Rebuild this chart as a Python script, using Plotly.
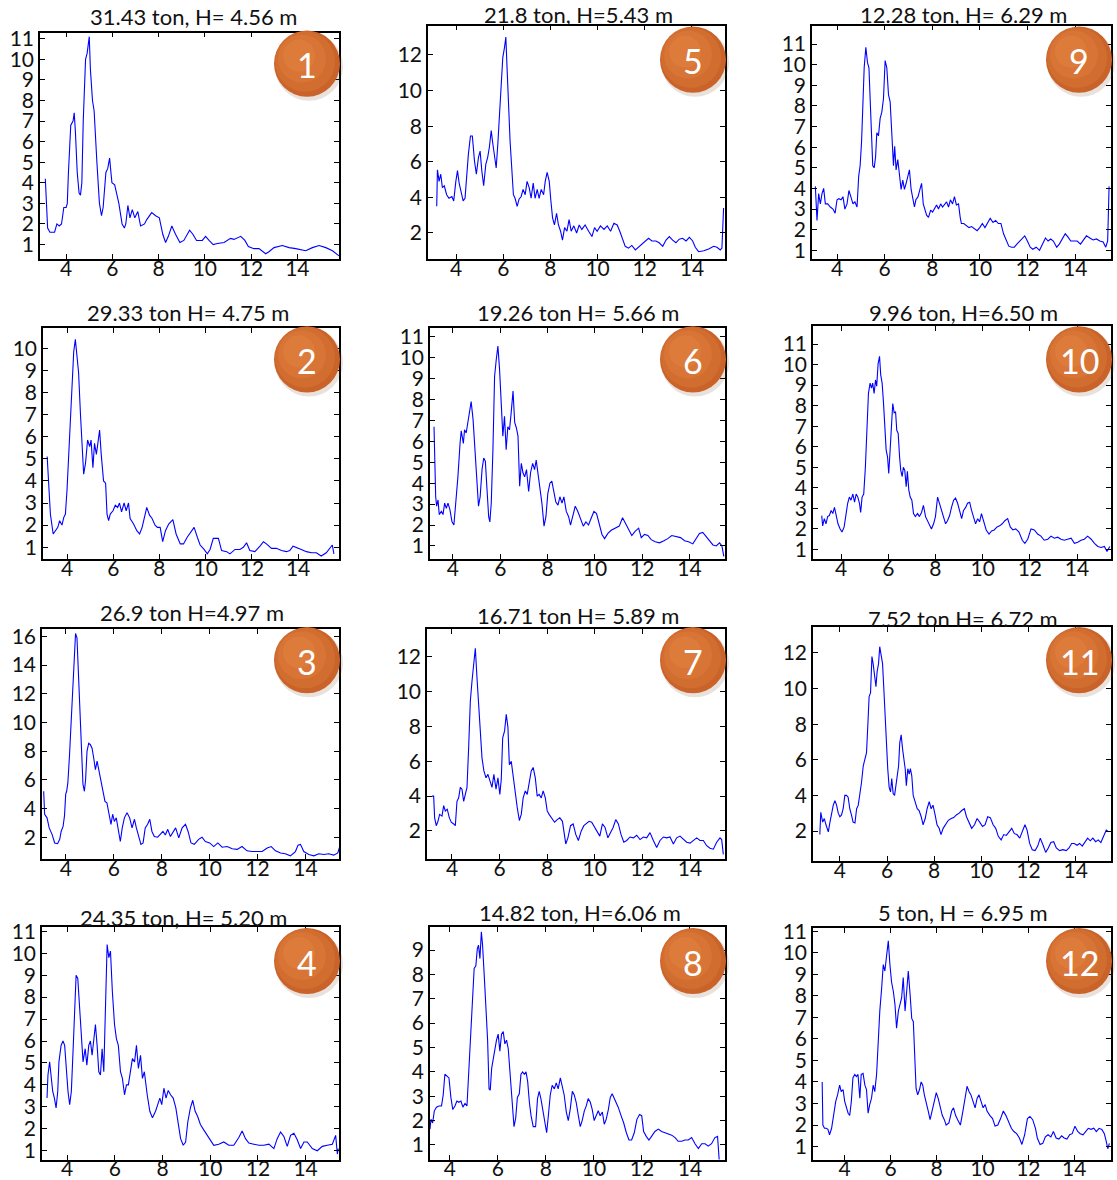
import plotly.graph_objects as go

# ---------------- data ((x, y) pairs) ----------------
P1 = [(3.1,4.2),(3.15,2.5),(3.2,1.8),(3.3,1.6),(3.4,1.6),(3.5,1.6),(3.6,2.0),(3.7,1.9),(3.8,2.0),(3.9,2.8),
      (4.0,2.8),(4.05,3.0),(4.1,4.5),(4.2,6.8),(4.3,7.0),(4.35,7.4),(4.4,6.5),(4.48,4.5),(4.56,3.5),(4.62,3.4),
      (4.68,4.0),(4.74,7.0),(4.84,10.0),(4.91,10.3),(5.0,11.1),(5.05,9.5),(5.14,8.0),(5.21,7.5),(5.33,5.0),(5.44,3.0),
      (5.53,2.4),(5.6,2.8),(5.72,4.5),(5.8,4.7),(5.88,5.2),(5.98,4.0),(6.1,3.9),(6.28,3.0),(6.42,2.0),(6.52,1.8),
      (6.58,2.0),(6.67,2.9),(6.76,2.3),(6.86,2.7),(6.97,2.3),(7.1,2.6),(7.22,1.9),(7.39,2.0),(7.48,2.2),(7.7,2.55),
      (7.87,2.4),(8.03,2.3),(8.18,1.5),(8.3,1.1),(8.42,1.4),(8.57,1.9),(8.73,1.5),(8.92,1.1),(9.09,1.2),(9.24,1.5),
      (9.34,1.7),(9.48,1.5),(9.64,1.2),(9.89,1.2),(10.03,1.4),(10.18,1.2),(10.36,1.0),(10.54,1.05),(10.83,1.1),(11.11,1.3),
      (11.26,1.25),(11.55,1.4),(11.73,1.2),(11.88,0.9),(12.12,0.8),(12.34,0.8),(12.63,0.55),(12.77,0.65),(12.99,0.85),(13.35,0.95),
      (13.64,0.85),(13.93,0.8),(14.22,0.75),(14.36,0.7),(14.65,0.85),(14.94,0.95),(15.23,0.85),(15.52,0.7),(15.8,0.45)]

P2 = [(3.14,5.1),(3.21,3.6),(3.28,2.5),(3.4,1.6),(3.5,1.75),(3.6,1.9),(3.68,2.2),(3.78,2.0),(3.86,2.35),(3.93,2.5),
      (4.0,3.6),(4.07,5.1),(4.14,6.3),(4.22,8.4),(4.29,9.85),(4.36,10.4),(4.43,9.7),(4.5,8.9),(4.58,7.05),(4.65,5.5),
      (4.72,4.3),(4.8,4.8),(4.89,5.85),(4.98,5.55),(5.04,5.85),(5.12,4.6),(5.19,5.7),(5.27,5.2),(5.34,5.85),(5.41,6.3),
      (5.48,5.2),(5.58,4.0),(5.67,3.9),(5.73,2.5),(5.8,2.2),(5.87,2.5),(5.99,2.65),(6.09,2.9),(6.19,2.8),(6.27,3.0),
      (6.36,2.6),(6.47,3.0),(6.56,2.65),(6.66,3.0),(6.73,2.3),(6.88,2.05),(7.02,1.75),(7.14,1.6),(7.25,1.9),(7.34,2.35),
      (7.45,2.8),(7.57,2.45),(7.68,2.3),(7.81,2.0),(7.91,1.9),(8.03,1.9),(8.14,1.25),(8.26,1.75),(8.4,2.05),(8.58,2.25),
      (8.72,1.6),(8.9,1.15),(9.04,1.15),(9.2,1.45),(9.4,1.75),(9.5,1.9),(9.64,1.45),(9.76,1.1),(9.93,0.9),(10.07,0.7),
      (10.19,0.9),(10.33,1.4),(10.55,1.4),(10.69,0.85),(10.91,0.8),(11.05,0.7),(11.27,0.9),(11.48,0.9),(11.63,1.0),(11.77,1.2),
      (11.91,0.85),(12.13,0.8),(12.35,1.05),(12.5,1.25),(12.63,1.15),(12.85,0.95),(13.06,0.95),(13.28,0.85),(13.5,0.8),(13.64,0.85),
      (13.78,1.05),(13.93,1.0),(14.14,0.9),(14.36,0.8),(14.58,0.75),(14.79,0.75),(15.0,0.6),(15.22,0.75),(15.4,1.0),(15.48,1.1),
      (15.55,0.7)]

P3 = [(3.07,5.2),(3.11,3.6),(3.21,3.35),(3.3,2.65),(3.42,2.2),(3.53,1.6),(3.65,1.55),(3.74,1.85),(3.8,2.4),(3.88,2.75),
      (3.94,3.5),(3.99,5.0),(4.03,5.2),(4.08,5.8),(4.15,7.75),(4.21,9.85),(4.28,12.15),(4.35,15.2),(4.4,16.2),(4.46,15.9),
      (4.52,13.55),(4.57,11.25),(4.64,8.0),(4.71,5.7),(4.77,5.2),(4.82,6.0),(4.88,8.0),(4.95,8.55),(5.02,8.45),(5.09,8.2),
      (5.16,7.5),(5.23,6.7),(5.3,7.3),(5.36,6.8),(5.43,6.0),(5.55,5.1),(5.63,4.5),(5.71,4.4),(5.8,3.6),(5.88,2.9),
      (5.95,3.6),(6.02,3.1),(6.1,3.35),(6.2,2.4),(6.27,1.7),(6.35,2.65),(6.44,3.35),(6.55,3.7),(6.66,3.35),(6.76,2.65),
      (6.86,3.25),(6.94,2.65),(7.05,1.95),(7.13,1.5),(7.22,1.6),(7.31,2.65),(7.41,2.9),(7.5,3.25),(7.59,2.4),(7.69,2.05),
      (7.83,2.0),(7.97,2.3),(8.05,2.4),(8.15,2.15),(8.25,2.55),(8.36,2.05),(8.47,2.4),(8.58,2.65),(8.71,1.95),(8.85,2.65),
      (8.99,2.9),(9.1,2.4),(9.22,1.6),(9.36,1.5),(9.54,1.85),(9.68,2.0),(9.82,1.7),(10.0,1.6),(10.17,1.35),(10.34,1.6),
      (10.52,1.3),(10.73,1.35),(10.94,1.2),(11.15,1.15),(11.35,1.35),(11.56,1.05),(11.77,1.0),(11.98,1.0),(12.19,1.0),(12.4,1.25),
      (12.57,1.35),(12.75,1.05),(12.96,0.9),(13.16,0.85),(13.37,0.7),(13.58,1.0),(13.69,1.45),(13.79,1.5),(13.93,1.0),(14.14,0.8),
      (14.35,0.7),(14.56,0.85),(14.77,0.8),(14.97,0.85),(15.18,0.75),(15.35,0.9),(15.43,1.35)]

P4 = [(3.16,3.4),(3.2,4.45),(3.27,5.05),(3.33,4.3),(3.4,3.7),(3.47,3.4),(3.54,2.95),(3.61,3.7),(3.66,5.05),(3.75,5.8),
      (3.83,6.0),(3.9,5.8),(3.97,4.6),(4.04,3.7),(4.11,3.1),(4.18,3.7),(4.25,5.5),(4.31,7.2),(4.38,9.0),(4.45,8.85),
      (4.53,7.5),(4.6,6.1),(4.67,5.05),(4.76,5.65),(4.83,4.9),(4.91,5.8),(4.98,6.0),(5.05,5.35),(5.12,6.1),(5.19,6.75),
      (5.26,5.8),(5.33,4.6),(5.4,4.45),(5.47,5.65),(5.54,4.6),(5.61,7.2),(5.68,10.4),(5.75,9.8),(5.82,10.1),(5.9,8.25),
      (5.99,6.75),(6.07,6.1),(6.15,5.8),(6.24,4.6),(6.32,4.3),(6.41,3.55),(6.49,4.0),(6.57,4.0),(6.66,4.6),(6.74,5.2),
      (6.83,5.05),(6.91,5.8),(6.99,4.75),(7.08,5.35),(7.16,4.3),(7.24,4.6),(7.36,3.55),(7.47,2.8),(7.58,2.5),(7.71,2.8),
      (7.8,3.1),(7.89,3.4),(7.97,3.1),(8.06,3.85),(8.15,3.4),(8.24,3.75),(8.34,3.55),(8.45,3.4),(8.56,2.95),(8.66,2.2),
      (8.76,1.55),(8.87,1.25),(8.97,1.4),(9.06,2.3),(9.17,2.95),(9.27,3.3),(9.37,2.8),(9.48,2.55),(9.59,2.2),(9.73,1.95),
      (9.87,1.7),(10.01,1.5),(10.15,1.25),(10.36,1.3),(10.57,1.4),(10.78,1.25),(10.99,1.25),(11.2,1.6),(11.34,1.9),(11.48,1.55),
      (11.62,1.35),(11.83,1.3),(12.04,1.25),(12.25,1.25),(12.46,1.3),(12.67,1.1),(12.81,1.55),(12.95,1.85),(13.09,1.65),(13.23,1.2),
      (13.37,1.7),(13.51,1.8),(13.65,1.5),(13.79,1.1),(13.93,1.4),(14.07,1.4),(14.28,1.1),(14.49,1.0),(14.7,1.2),(14.91,1.25),
      (15.12,1.3),(15.26,1.7),(15.33,0.85),(15.37,1.1)]

P5 = [(3.18,3.5),(3.21,5.55),(3.28,4.9),(3.35,5.3),(3.42,4.55),(3.5,4.65),(3.6,4.15),(3.7,3.95),(3.82,4.05),(3.9,3.8),
      (3.99,4.9),(4.06,5.5),(4.13,4.8),(4.21,4.25),(4.3,3.8),(4.38,3.95),(4.45,5.3),(4.52,6.4),(4.61,7.45),(4.69,7.45),
      (4.78,6.05),(4.86,5.3),(4.95,6.25),(5.02,6.6),(5.09,5.5),(5.17,4.65),(5.26,5.85),(5.34,6.25),(5.41,6.8),(5.49,7.75),
      (5.56,7.0),(5.63,6.25),(5.7,5.65),(5.77,7.0),(5.84,8.85),(5.91,10.75),(5.98,11.85),(6.05,12.4),(6.11,13.0),(6.16,11.3),
      (6.22,8.85),(6.29,7.15),(6.36,5.65),(6.43,4.15),(6.5,3.95),(6.59,3.5),(6.67,3.9),(6.76,4.05),(6.84,4.45),(6.93,4.15),
      (7.01,4.9),(7.1,4.55),(7.18,3.95),(7.27,4.8),(7.35,3.95),(7.44,4.45),(7.52,3.95),(7.61,4.45),(7.71,4.15),(7.78,4.9),
      (7.86,5.4),(7.95,4.9),(8.02,3.8),(8.09,2.85),(8.17,2.45),(8.26,3.1),(8.34,2.45),(8.43,2.1),(8.51,1.6),(8.6,2.3),
      (8.7,2.1),(8.79,2.75),(8.88,2.1),(8.99,2.4),(9.11,2.0),(9.22,2.45),(9.33,2.2),(9.47,2.45),(9.62,2.1),(9.76,1.8),
      (9.87,2.3),(9.98,2.1),(10.12,2.4),(10.27,2.2),(10.41,2.4),(10.55,2.1),(10.69,2.55),(10.83,2.45),(10.94,2.1),(11.06,1.6),
      (11.17,1.25),(11.31,1.15),(11.45,1.3),(11.6,1.05),(11.74,1.2),(11.88,1.4),(12.02,1.55),(12.16,1.7),(12.3,1.55),(12.47,1.55),
      (12.61,1.45),(12.76,1.25),(12.9,1.6),(13.04,1.8),(13.18,1.6),(13.32,1.45),(13.46,1.65),(13.6,1.7),(13.75,1.55),(13.89,1.75),
      (14.03,1.55),(14.14,1.2),(14.28,0.95),(14.5,1.0),(14.71,1.1),(14.92,1.25),(15.06,1.2),(15.2,1.05),(15.27,1.15),(15.34,3.4)]

P6 = [(3.2,6.7),(3.23,4.65),(3.27,3.35),(3.31,2.9),(3.37,3.2),(3.42,2.5),(3.51,2.65),(3.58,2.5),(3.65,3.05),(3.72,2.8),
      (3.79,3.05),(3.87,2.75),(3.96,2.15),(4.04,2.0),(4.13,3.05),(4.21,4.3),(4.3,5.9),(4.35,6.5),(4.44,5.9),(4.49,6.55),
      (4.56,6.4),(4.63,6.9),(4.7,7.5),(4.77,7.9),(4.85,7.05),(4.92,5.6),(5.0,4.0),(5.08,2.9),(5.15,3.35),(5.23,4.65),
      (5.3,5.2),(5.37,5.05),(5.44,3.7),(5.51,2.4),(5.56,2.15),(5.62,3.05),(5.69,5.6),(5.76,9.1),(5.83,9.9),(5.9,10.55),
      (5.97,9.45),(6.04,7.7),(6.11,6.25),(6.18,7.2),(6.25,5.6),(6.32,6.7),(6.39,6.55),(6.46,7.35),(6.54,8.4),(6.61,6.9),
      (6.68,6.65),(6.75,6.25),(6.82,3.85),(6.89,4.95),(6.96,4.5),(7.03,4.3),(7.11,4.65),(7.2,3.6),(7.28,4.5),(7.37,4.95),
      (7.45,4.65),(7.52,5.1),(7.59,4.5),(7.68,3.5),(7.76,3.05),(7.85,1.95),(7.93,2.4),(8.01,3.5),(8.1,4.0),(8.18,4.1),
      (8.27,3.5),(8.35,3.1),(8.44,2.95),(8.52,3.35),(8.61,3.05),(8.69,3.35),(8.79,2.65),(8.89,2.4),(8.97,2.0),(9.06,2.4),
      (9.17,2.9),(9.28,2.65),(9.39,2.35),(9.51,1.95),(9.62,2.15),(9.73,2.0),(9.85,2.35),(9.96,2.65),(10.07,2.55),(10.18,2.1),
      (10.3,1.55),(10.41,1.35),(10.55,1.6),(10.69,1.75),(10.86,1.85),(11.03,1.95),(11.17,2.35),(11.28,2.1),(11.42,1.75),(11.56,1.5),
      (11.7,1.7),(11.85,1.85),(11.96,1.4),(12.1,1.55),(12.24,1.5),(12.38,1.3),(12.55,1.2),(12.73,1.15),(12.92,1.25),(13.08,1.35),
      (13.25,1.5),(13.44,1.45),(13.62,1.4),(13.79,1.25),(13.96,1.2),(14.14,1.1),(14.28,1.35),(14.42,1.6),(14.56,1.65),(14.7,1.45),
      (14.85,1.2),(14.99,1.05),(15.13,1.0),(15.27,1.15),(15.37,1.0),(15.45,0.5)]

P7 = [(3.16,4.0),(3.23,4.0),(3.27,2.75),(3.34,2.3),(3.41,2.55),(3.48,2.95),(3.58,2.85),(3.65,3.45),(3.72,3.15),(3.8,3.25),
      (3.89,2.75),(3.97,2.5),(4.07,2.4),(4.14,2.3),(4.21,3.7),(4.28,3.9),(4.35,4.5),(4.42,4.4),(4.49,3.7),(4.56,4.1),
      (4.63,4.5),(4.7,6.8),(4.77,9.45),(4.84,10.6),(4.91,11.65),(4.98,12.5),(5.05,10.8),(5.12,9.05),(5.19,7.35),(5.26,6.2),
      (5.34,5.45),(5.43,5.05),(5.51,5.25),(5.59,4.95),(5.68,4.5),(5.76,5.25),(5.85,4.4),(5.93,5.05),(6.01,4.1),(6.07,4.95),
      (6.13,7.35),(6.21,7.75),(6.28,8.7),(6.35,7.95),(6.41,5.8),(6.49,6.0),(6.57,5.05),(6.66,4.3),(6.74,3.35),(6.83,2.6),
      (6.91,2.95),(6.99,3.9),(7.08,4.3),(7.16,4.1),(7.24,4.85),(7.33,5.45),(7.41,5.65),(7.5,5.05),(7.58,4.0),(7.66,4.1),
      (7.75,3.9),(7.83,4.3),(7.92,3.9),(8.0,3.15),(8.08,2.95),(8.2,2.75),(8.31,2.5),(8.42,2.65),(8.53,2.75),(8.64,2.55),
      (8.73,1.6),(8.78,1.25),(8.87,1.6),(8.98,2.3),(9.09,2.4),(9.2,1.8),(9.31,1.45),(9.43,2.0),(9.54,2.3),(9.65,2.4),
      (9.76,2.55),(9.87,2.5),(9.99,2.2),(10.1,1.9),(10.21,1.7),(10.32,2.4),(10.43,2.2),(10.55,1.6),(10.66,1.9),(10.77,2.2),
      (10.88,2.65),(10.99,2.4),(11.1,1.8),(11.22,1.35),(11.34,1.45),(11.48,1.65),(11.62,1.6),(11.76,1.75),(11.9,1.5),(12.04,1.65),
      (12.18,1.6),(12.32,1.9),(12.46,1.45),(12.6,1.05),(12.74,1.45),(12.88,1.65),(13.02,1.6),(13.16,1.65),(13.3,1.25),(13.44,1.6),
      (13.58,1.7),(13.72,1.5),(13.86,1.35),(14.0,1.3),(14.14,1.45),(14.28,1.6),(14.42,1.45),(14.56,1.45),(14.7,1.15),(14.84,1.0),
      (14.98,0.95),(15.12,1.35),(15.26,1.6),(15.33,1.5),(15.4,0.65)]

P8 = [(3.17,1.65),(3.21,2.05),(3.28,1.9),(3.35,2.4),(3.44,2.55),(3.54,2.6),(3.65,2.6),(3.72,3.05),(3.79,3.9),(3.88,3.8),
      (3.96,3.75),(4.04,2.95),(4.12,2.45),(4.21,2.6),(4.29,2.8),(4.37,2.75),(4.46,2.8),(4.54,2.55),(4.63,2.7),(4.71,2.6),
      (4.79,4.15),(4.88,5.55),(4.94,6.95),(5.01,8.25),(5.08,8.35),(5.14,9.05),(5.19,9.2),(5.25,8.65),(5.31,9.75),(5.36,9.2),
      (5.43,7.95),(5.5,6.85),(5.57,5.3),(5.63,3.3),(5.68,3.25),(5.74,4.15),(5.81,4.6),(5.88,5.0),(5.94,5.3),(6.01,5.55),
      (6.08,4.85),(6.15,5.55),(6.22,5.65),(6.29,5.15),(6.36,5.3),(6.43,4.95),(6.51,3.9),(6.6,2.75),(6.67,1.75),(6.74,2.1),
      (6.81,2.95),(6.89,3.1),(6.96,3.9),(7.03,4.0),(7.1,3.9),(7.17,4.0),(7.24,3.6),(7.31,2.75),(7.38,2.2),(7.47,1.75),
      (7.57,1.75),(7.65,2.9),(7.72,3.2),(7.79,2.9),(7.88,2.35),(7.96,1.75),(8.03,1.5),(8.1,2.2),(8.18,3.05),(8.26,3.45),
      (8.35,3.3),(8.43,3.55),(8.51,3.3),(8.6,3.75),(8.68,3.45),(8.76,3.05),(8.85,2.35),(8.93,2.0),(9.01,2.45),(9.1,3.2),
      (9.18,3.05),(9.26,2.75),(9.35,2.2),(9.43,1.75),(9.51,2.0),(9.6,2.4),(9.68,2.6),(9.76,2.9),(9.85,2.75),(9.93,2.45),
      (10.01,2.0),(10.1,2.2),(10.18,2.4),(10.26,2.2),(10.35,2.35),(10.43,1.85),(10.51,2.05),(10.6,2.45),(10.68,2.95),(10.76,3.1),
      (10.85,2.9),(10.93,2.75),(11.01,2.55),(11.13,2.2),(11.24,1.9),(11.35,1.5),(11.46,1.2),(11.57,1.2),(11.68,1.5),(11.79,2.05),
      (11.9,2.25),(11.99,2.2),(12.07,1.55),(12.18,1.35),(12.29,1.2),(12.4,1.35),(12.54,1.55),(12.68,1.65),(12.82,1.55),(12.96,1.5),
      (13.1,1.45),(13.24,1.4),(13.38,1.3),(13.51,1.15),(13.65,1.15),(13.79,1.2),(13.93,1.2),(14.07,1.3),(14.21,1.05),(14.35,0.85),
      (14.49,1.05),(14.63,1.05),(14.76,0.95),(14.9,1.05),(15.04,1.3),(15.15,1.35),(15.22,0.35)]

P9 = [(3.09,4.1),(3.16,2.45),(3.23,3.75),(3.3,3.25),(3.37,3.75),(3.44,4.0),(3.51,3.25),(3.61,3.25),(3.72,3.1),(3.83,3.0),
      (3.92,2.8),(4.0,3.45),(4.08,3.5),(4.17,3.45),(4.25,3.6),(4.33,3.0),(4.42,3.25),(4.5,3.9),(4.58,3.6),(4.67,3.25),
      (4.75,3.35),(4.84,3.1),(4.91,4.6),(4.97,5.1),(5.03,6.25),(5.09,8.2),(5.14,9.85),(5.21,10.85),(5.28,10.1),(5.34,9.85),
      (5.39,8.55),(5.45,6.25),(5.5,5.1),(5.56,5.0),(5.62,5.55),(5.67,6.7),(5.74,6.55),(5.81,7.4),(5.88,7.7),(5.95,8.35),
      (6.02,10.2),(6.09,9.85),(6.16,8.55),(6.23,8.2),(6.3,6.25),(6.37,5.1),(6.42,6.05),(6.48,4.9),(6.55,5.4),(6.62,4.75),
      (6.69,3.95),(6.76,4.4),(6.83,3.95),(6.9,4.25),(6.97,4.6),(7.04,4.9),(7.11,3.95),(7.18,3.6),(7.25,3.1),(7.31,3.45),
      (7.4,3.6),(7.48,3.95),(7.55,4.25),(7.62,3.25),(7.69,3.0),(7.76,2.7),(7.84,2.6),(7.93,2.95),(8.01,2.85),(8.09,3.0),
      (8.18,3.2),(8.26,3.0),(8.35,3.25),(8.43,3.1),(8.51,3.2),(8.6,3.35),(8.68,3.1),(8.76,3.45),(8.85,3.25),(8.93,3.6),
      (9.01,3.2),(9.1,3.25),(9.17,2.6),(9.22,2.3),(9.32,2.3),(9.43,2.2),(9.54,2.1),(9.65,2.15),(9.77,2.05),(9.88,1.95),
      (9.99,2.1),(10.1,2.3),(10.21,2.1),(10.32,2.35),(10.43,2.55),(10.55,2.35),(10.66,2.45),(10.77,2.3),(10.88,2.3),(10.99,1.8),
      (11.1,1.45),(11.21,1.2),(11.33,1.15),(11.44,1.15),(11.55,1.3),(11.66,1.45),(11.77,1.6),(11.88,1.7),(11.99,1.45),(12.11,1.15),
      (12.22,1.05),(12.36,1.15),(12.5,1.0),(12.64,1.3),(12.75,1.6),(12.86,1.45),(12.97,1.55),(13.08,1.45),(13.22,1.15),(13.33,1.3),
      (13.47,1.6),(13.58,1.8),(13.69,1.65),(13.81,1.45),(13.94,1.45),(14.08,1.45),(14.22,1.3),(14.36,1.55),(14.47,1.7),(14.61,1.6),
      (14.75,1.5),(14.89,1.55),(15.03,1.45),(15.17,1.4),(15.28,1.15),(15.36,1.45),(15.42,4.1)]

P10 = [(3.18,2.65),(3.22,2.15),(3.29,2.5),(3.36,2.25),(3.43,2.6),(3.5,2.65),(3.58,2.9),(3.65,2.75),(3.72,3.05),(3.79,2.6),
       (3.87,2.25),(3.96,2.0),(4.04,1.85),(4.13,2.1),(4.21,2.75),(4.28,3.25),(4.35,3.55),(4.42,3.4),(4.5,3.7),(4.57,3.3),
       (4.64,3.7),(4.71,3.55),(4.78,3.25),(4.83,2.8),(4.89,3.55),(4.96,3.7),(5.03,5.0),(5.09,7.15),(5.16,8.6),(5.23,9.1),
       (5.29,8.85),(5.34,9.1),(5.4,8.6),(5.46,9.25),(5.51,8.95),(5.57,10.05),(5.63,10.4),(5.68,9.5),(5.74,9.1),(5.8,8.1),
       (5.85,6.8),(5.91,5.85),(5.97,5.5),(6.02,4.7),(6.08,5.85),(6.14,7.15),(6.19,8.1),(6.25,7.65),(6.31,7.7),(6.36,6.8),
       (6.42,6.65),(6.48,5.5),(6.53,4.85),(6.59,4.55),(6.64,5.0),(6.7,4.85),(6.76,4.05),(6.81,4.8),(6.87,3.9),(6.93,3.55),
       (7.0,3.4),(7.07,2.75),(7.15,2.6),(7.24,2.75),(7.32,2.6),(7.41,2.8),(7.49,3.15),(7.58,2.6),(7.66,2.4),(7.75,2.25),
       (7.83,2.0),(7.92,2.25),(8.0,2.6),(8.09,3.55),(8.17,3.25),(8.26,2.9),(8.34,2.6),(8.43,2.25),(8.51,2.4),(8.6,2.65),
       (8.68,3.05),(8.77,3.4),(8.85,3.5),(8.94,3.25),(9.02,2.9),(9.11,2.5),(9.19,2.9),(9.28,3.05),(9.36,3.25),(9.45,3.3),
       (9.53,2.9),(9.62,2.5),(9.7,2.25),(9.79,2.5),(9.87,2.35),(9.95,2.75),(10.04,2.35),(10.15,1.95),(10.27,1.75),(10.38,1.9),
       (10.49,1.95),(10.61,2.1),(10.72,2.15),(10.83,2.25),(10.94,2.4),(11.06,2.5),(11.17,2.1),(11.28,1.95),(11.4,2.0),(11.54,1.85),
       (11.68,1.45),(11.79,1.3),(11.91,1.5),(12.05,2.0),(12.19,1.95),(12.33,1.75),(12.47,1.65),(12.61,1.45),(12.76,1.5),(12.9,1.65),
       (13.04,1.55),(13.18,1.6),(13.32,1.5),(13.46,1.45),(13.6,1.5),(13.75,1.55),(13.89,1.3),(14.03,1.35),(14.17,1.45),(14.31,1.5),
       (14.45,1.65),(14.6,1.5),(14.74,1.3),(14.88,1.15),(15.02,1.1),(15.16,1.15),(15.27,0.9),(15.39,1.15)]

P11 = [(3.15,1.8),(3.19,3.05),(3.27,2.5),(3.34,2.7),(3.41,2.35),(3.51,1.95),(3.58,2.5),(3.65,3.05),(3.72,3.45),(3.79,3.7),
       (3.86,3.45),(3.93,3.0),(4.0,2.8),(4.07,2.9),(4.14,3.25),(4.21,4.0),(4.28,4.0),(4.35,3.9),(4.42,3.25),(4.49,2.9),
       (4.56,2.5),(4.64,2.45),(4.71,3.25),(4.78,3.45),(4.85,4.0),(4.92,4.75),(4.99,5.65),(5.06,6.05),(5.13,6.4),(5.19,8.05),
       (5.24,9.55),(5.3,9.75),(5.36,11.8),(5.41,11.4),(5.47,10.65),(5.53,10.1),(5.58,10.95),(5.64,11.4),(5.69,12.35),(5.75,11.8),
       (5.81,11.4),(5.86,10.1),(5.92,8.45),(5.98,6.6),(6.03,5.5),(6.09,4.45),(6.15,4.2),(6.2,4.95),(6.26,4.1),(6.32,4.0),
       (6.37,4.55),(6.43,5.0),(6.49,5.65),(6.54,6.95),(6.6,7.4),(6.66,6.6),(6.71,6.05),(6.77,5.5),(6.82,4.55),(6.88,5.5),
       (6.94,5.2),(6.99,5.5),(7.05,5.1),(7.11,4.0),(7.19,3.65),(7.28,3.25),(7.36,3.15),(7.45,2.8),(7.53,2.35),(7.62,2.7),
       (7.7,3.25),(7.79,3.65),(7.87,3.25),(7.95,3.45),(8.04,2.9),(8.12,2.35),(8.21,2.15),(8.29,1.8),(8.38,2.15),(8.49,2.35),
       (8.6,2.6),(8.72,2.7),(8.83,2.75),(8.94,2.9),(9.06,3.0),(9.17,3.15),(9.28,3.25),(9.37,2.8),(9.48,2.45),(9.59,2.15),
       (9.71,2.35),(9.82,2.7),(9.93,2.5),(10.05,2.25),(10.16,2.35),(10.27,2.8),(10.38,2.75),(10.5,2.35),(10.61,2.15),(10.72,1.7),
       (10.84,1.5),(10.95,1.8),(11.06,1.75),(11.18,1.95),(11.29,2.15),(11.4,1.85),(11.51,1.8),(11.63,1.6),(11.74,1.95),(11.85,2.35),
       (11.94,2.05),(12.05,1.3),(12.16,0.95),(12.28,0.9),(12.39,1.15),(12.5,1.6),(12.62,1.2),(12.73,0.8),(12.84,1.05),(12.95,1.35),
       (13.07,1.4),(13.18,1.05),(13.32,0.9),(13.46,0.95),(13.6,0.9),(13.72,1.05),(13.83,1.3),(13.94,1.3),(14.06,1.2),(14.17,1.3),
       (14.28,1.15),(14.4,1.4),(14.51,1.6),(14.62,1.45),(14.73,1.6),(14.85,1.4),(14.96,1.5),(15.07,1.35),(15.19,1.7),(15.3,2.05),
       (15.41,1.95)]

P12 = [(3.02,4.0),(3.05,2.0),(3.12,1.85),(3.2,1.85),(3.27,1.8),(3.34,1.55),(3.43,1.85),(3.52,2.45),(3.61,3.1),(3.69,3.4),
       (3.78,3.85),(3.85,3.55),(3.93,3.65),(4.0,3.1),(4.07,2.8),(4.15,2.55),(4.22,2.45),(4.29,3.1),(4.36,4.2),(4.44,4.35),
       (4.51,4.25),(4.58,4.35),(4.66,3.25),(4.72,4.35),(4.8,4.4),(4.88,3.85),(4.95,3.65),(5.02,2.55),(5.09,2.95),(5.17,3.25),
       (5.24,3.85),(5.31,3.55),(5.39,4.35),(5.46,6.05),(5.53,7.3),(5.61,8.35),(5.68,9.45),(5.75,9.15),(5.82,9.7),(5.9,10.55),
       (5.97,9.45),(6.04,8.65),(6.12,8.2),(6.19,7.6),(6.26,6.5),(6.34,7.3),(6.41,7.6),(6.48,7.9),(6.55,8.85),(6.63,7.3),
       (6.7,8.2),(6.77,9.15),(6.85,8.05),(6.92,6.95),(6.99,6.8),(7.05,5.1),(7.11,3.7),(7.18,3.4),(7.26,3.65),(7.33,4.0),
       (7.4,3.85),(7.47,3.4),(7.55,3.1),(7.64,2.65),(7.72,2.25),(7.81,2.65),(7.9,3.1),(7.99,3.5),(8.07,3.25),(8.16,2.8),
       (8.25,2.45),(8.34,2.25),(8.42,2.0),(8.54,2.1),(8.66,2.65),(8.74,2.8),(8.83,2.45),(8.92,2.25),(9.04,2.0),(9.15,2.65),
       (9.24,3.25),(9.33,3.8),(9.42,3.55),(9.5,3.4),(9.59,3.1),(9.68,2.8),(9.77,3.25),(9.85,3.4),(9.94,3.1),(10.03,2.8),
       (10.12,2.95),(10.2,2.65),(10.32,2.45),(10.44,2.3),(10.55,1.95),(10.67,2.0),(10.79,2.3),(10.91,2.65),(11.02,2.45),(11.14,2.15),
       (11.26,1.85),(11.37,1.7),(11.49,1.6),(11.61,1.4),(11.72,1.1),(11.84,1.55),(11.96,2.3),(12.07,2.4),(12.19,2.25),(12.31,1.85),
       (12.39,1.4),(12.51,1.1),(12.63,1.15),(12.74,1.45),(12.86,1.55),(12.98,1.45),(13.09,1.7),(13.21,1.4),(13.33,1.35),(13.45,1.5),
       (13.56,1.4),(13.68,1.35),(13.8,1.55),(13.91,1.6),(14.03,1.95),(14.15,1.7),(14.26,1.6),(14.38,1.55),(14.5,1.7),(14.61,1.85),
       (14.73,1.8),(14.85,1.85),(14.96,1.7),(15.08,1.85),(15.2,1.8),(15.31,1.6),(15.39,1.25),(15.46,0.9),(15.53,1.15)]

SERIES = [P1, P2, P3, P4, P5, P6, P7, P8, P9, P10, P11, P12]

TITLES = ["31.43 ton, H= 4.56 m", "29.33 ton H= 4.75 m", "26.9 ton H=4.97 m", "24.35 ton, H= 5.20 m",
          "21.8 ton, H=5.43 m", "19.26 ton H= 5.66 m", "16.71 ton H= 5.89 m", "14.82 ton, H=6.06 m",
          "12.28 ton, H= 6.29 m", "9.96 ton, H=6.50 m", "7.52 ton H= 6.72 m", "5 ton, H = 6.95 m"]

BADGES = ["1", "2", "3", "4", "5", "6", "7", "8", "9", "10", "11", "12"]

X_TICKS = [4, 6, 8, 10, 12, 14]
Y_TICKS = [list(range(1, 12)), list(range(1, 11)), list(range(2, 17, 2)), list(range(1, 12)),
           list(range(2, 13, 2)), list(range(1, 12)), list(range(2, 13, 2)), list(range(1, 10)),
           list(range(1, 12)), list(range(1, 12)), list(range(2, 13, 2)), list(range(1, 12))]

X_RANGES = [[2.87, 15.8], [2.96, 15.77], [3.0, 15.4], [2.95, 15.4],
            [2.81, 15.4], [3.03, 15.5], [2.95, 15.47], [3.17, 15.46],
            [2.95, 15.5], [2.81, 15.44], [2.86, 15.5], [2.62, 15.6]]
Y_RANGES = [[0.29, 11.3], [0.47, 10.9], [0.5, 16.5], [0.6, 11.2],
            [0.53, 13.65], [0.38, 11.4], [0.4, 13.6], [0.4, 9.95],
            [0.57, 11.9], [0.54, 11.86], [0.33, 13.45], [0.4, 11.15]]

# ---------------- layout geometry ----------------
W, H = 1117, 1180

# Target positions are measured in reference-image pixels; the vertical
# placement is calibrated against the previous renders of this page.
VY0, VS = 9.5, 0.983


def px(x):
    return min(1.0, max(0.0, x / W))


def page_y(y):
    return (y - VY0) / VS


def py(y):
    return min(1.0, max(0.0, 1 - page_y(y) / H))


FRAMES = [(40, 339, 32, 258), (43, 339, 327, 557), (42, 339, 627, 856), (42, 339, 924, 1156),
          (428, 725, 25, 258), (430, 725, 327, 557), (427, 725, 627, 856), (430, 725, 924, 1156),
          (812, 1111, 25, 258), (813, 1111, 325, 557), (813, 1111, 625, 858), (813, 1111, 925, 1156)]
TITLE_POS = [(194, 16), (188, 311), (192, 610), (183, 915),
             (578, 14), (578, 311), (578, 613), (580, 910),
             (963, 14), (963, 311), (963, 616), (963, 910)]
BADGE_POS = [(307, 63), (307, 358), (307, 658), (307, 958),
             (693, 59), (693, 358), (693, 658), (693, 958),
             (1079, 59), (1079, 358), (1079, 658), (1079, 958)]
BADGE_R = 33

FONT = "Lato"
TICK_FONT = dict(family=FONT, size=21, color="#111111")

fig = go.Figure()
shapes = []
annotations = []


def circle(cx, cy, r, dx, dy, color):
    return dict(type="circle", xref="paper", yref="paper", layer="above",
                x0=(cx - r + dx) / W, x1=(cx + r + dx) / W,
                y0=1 - page_y(cy + r + dy) / H, y1=1 - page_y(cy - r + dy) / H,
                fillcolor=color, line=dict(width=0))


for i in range(12):
    sfx = "" if i == 0 else str(i + 1)
    pts = SERIES[i]
    xs = [p[0] for p in pts]
    ys = [p[1] for p in pts]
    fig.add_trace(go.Scatter(x=xs, y=ys, mode="lines",
                             line=dict(color="#0000FF", width=1.1),
                             xaxis="x" + sfx, yaxis="y" + sfx,
                             showlegend=False, hoverinfo="skip"))
    l, r, t, b = FRAMES[i]
    common = dict(ticks="inside", ticklen=5, tickwidth=1, tickcolor="black",
                  showline=True, linecolor="black", linewidth=1.5, mirror="ticks",
                  showgrid=False, zeroline=False, tickfont=TICK_FONT, fixedrange=True)
    fig.update_layout(**{
        "xaxis" + sfx: dict(domain=[px(l), px(r)], range=X_RANGES[i], anchor="y" + sfx,
                            tickmode="array", tickvals=X_TICKS, ticklabelstandoff=-10,
                            ticktext=[str(v) for v in X_TICKS], **common),
        "yaxis" + sfx: dict(domain=[py(b), py(t)], range=Y_RANGES[i], anchor="x" + sfx,
                            tickmode="array", tickvals=Y_TICKS[i],
                            ticktext=[str(v) for v in Y_TICKS[i]], **common),
    })

    tx, ty = TITLE_POS[i]
    annotations.append(dict(text=TITLES[i], x=px(tx), y=py(ty), xref="paper", yref="paper",
                            xanchor="center", yanchor="middle", showarrow=False,
                            font=dict(family=FONT, size=22, color="#111111")))

    cx, cy = BADGE_POS[i]
    R = BADGE_R
    shapes.append(circle(cx, cy, R + 1, 2, 3, "rgba(120,70,40,0.16)"))
    shapes.append(circle(cx, cy, R, 0, 0, "#C9632A"))
    shapes.append(circle(cx, cy, R - 3, -2, -2, "rgba(222,122,55,0.45)"))
    shapes.append(circle(cx, cy, R - 9, -5, -5, "rgba(236,140,70,0.25)"))
    shapes.append(circle(cx, cy, R - 17, -8, -8, "rgba(245,155,85,0.18)"))
    annotations.append(dict(text=BADGES[i], x=px(cx), y=py(cy + 1), xref="paper", yref="paper",
                            xanchor="center", yanchor="middle", showarrow=False,
                            font=dict(family=FONT, size=34, color="white")))

fig.update_layout(width=W, height=H, margin=dict(l=0, r=0, t=0, b=0),
                  paper_bgcolor="white", plot_bgcolor="white",
                  shapes=shapes, annotations=annotations)

fig.write_html("out.html", config={"displayModeBar": False},
               post_script="document.body.style.margin='0px';document.body.style.overflow='hidden';")
